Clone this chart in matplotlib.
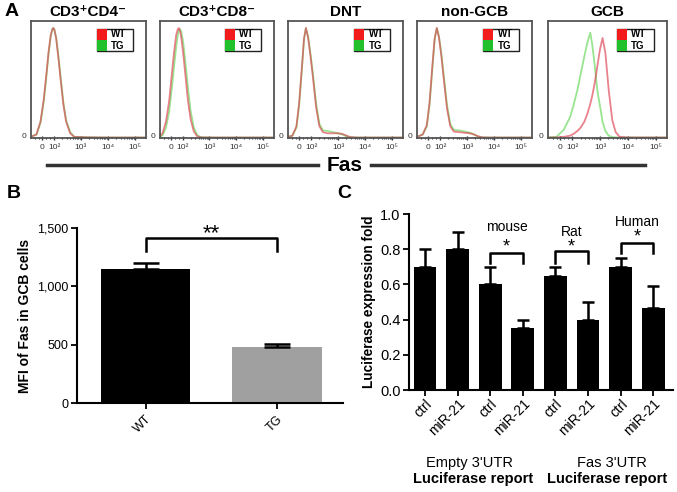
import matplotlib
matplotlib.use("Agg")
import matplotlib.pyplot as plt
from matplotlib.patches import Rectangle
import numpy as np

plt.rcParams['font.family'] = ['Liberation Sans', 'DejaVu Sans']

W, H = 677, 492

# ---------------- data ----------------
hist_titles = ['CD3⁺CD4⁻', 'CD3⁺CD8⁻', 'DNT', 'non-GCB', 'GCB']
hist_tick_pos = [1.556, 2, 3, 4, 5]
hist_tick_labels = ['0', '10²', '10³', '10⁴', '10⁵']

cd4_u = [1.14, 1.35, 1.50, 1.62, 1.72, 1.80, 1.88, 1.94, 1.97, 2.01, 2.08, 2.16, 2.25, 2.35, 2.45, 2.60, 2.75, 3.2, 4.0, 5.4]
cd4_wt = [0.01, 0.03, 0.14, 0.33, 0.55, 0.74, 0.88, 0.93, 0.94, 0.93, 0.85, 0.69, 0.49, 0.28, 0.14, 0.04, 0.01, 0.006, 0.004, 0.004]
cd4_tg = [0.01, 0.03, 0.13, 0.31, 0.53, 0.72, 0.87, 0.93, 0.94, 0.93, 0.86, 0.71, 0.51, 0.30, 0.15, 0.05, 0.01, 0.006, 0.004, 0.004]

cd8_u = [1.14, 1.25, 1.38, 1.50, 1.60, 1.68, 1.76, 1.82, 1.86, 1.90, 1.95, 2.02, 2.10, 2.20, 2.30, 2.42, 2.55, 2.70, 3.2, 4.0, 5.4]
cd8_wt = [0.012, 0.04, 0.14, 0.32, 0.55, 0.73, 0.88, 0.93, 0.94, 0.92, 0.86, 0.73, 0.55, 0.32, 0.16, 0.056, 0.014, 0.005, 0.004, 0.004, 0.004]
cd8_tg = [0.006, 0.023, 0.088, 0.23, 0.43, 0.61, 0.78, 0.88, 0.92, 0.93, 0.91, 0.82, 0.66, 0.43, 0.23, 0.088, 0.023, 0.006, 0.004, 0.004, 0.004]

dnt_u = [1.14, 1.30, 1.45, 1.55, 1.65, 1.73, 1.80, 1.88, 1.97, 2.06, 2.18, 2.30, 2.43, 2.60, 2.80, 3.00, 3.15, 3.30, 3.45, 3.70, 4.5, 5.4]
dnt_wt = [0.01, 0.02, 0.10, 0.30, 0.60, 0.85, 0.94, 0.86, 0.70, 0.52, 0.26, 0.10, 0.05, 0.04, 0.04, 0.04, 0.035, 0.02, 0.008, 0.004, 0.004, 0.004]
dnt_tg = [0.01, 0.02, 0.09, 0.28, 0.58, 0.84, 0.94, 0.87, 0.72, 0.55, 0.29, 0.12, 0.065, 0.06, 0.05, 0.04, 0.03, 0.015, 0.006, 0.004, 0.004, 0.004]

ngcb_u = [1.14, 1.35, 1.50, 1.60, 1.70, 1.79, 1.87, 1.95, 2.04, 2.13, 2.25, 2.37, 2.50, 2.70, 2.90, 3.10, 3.25, 3.40, 3.55, 3.80, 4.5, 5.4]
ngcb_wt = [0.01, 0.03, 0.11, 0.30, 0.60, 0.85, 0.94, 0.86, 0.70, 0.50, 0.25, 0.10, 0.055, 0.05, 0.045, 0.04, 0.03, 0.015, 0.006, 0.004, 0.004, 0.004]
ngcb_tg = [0.01, 0.03, 0.10, 0.28, 0.57, 0.84, 0.94, 0.87, 0.72, 0.53, 0.28, 0.12, 0.07, 0.065, 0.055, 0.045, 0.03, 0.012, 0.005, 0.004, 0.004, 0.004]

gcb_u = [1.06, 1.44, 1.70, 1.93, 2.05, 2.19, 2.31, 2.44, 2.55, 2.65, 2.72, 2.81, 2.87, 2.92, 3.00, 3.09, 3.19, 3.31, 3.44, 3.56, 3.70, 4.0, 5.4]
gcb_wt = [0.004, 0.005, 0.01, 0.02, 0.035, 0.06, 0.09, 0.14, 0.21, 0.29, 0.36, 0.47, 0.56, 0.64, 0.76, 0.855, 0.73, 0.41, 0.15, 0.05, 0.01, 0.005, 0.004]
gcb_tg = [0.005, 0.01, 0.07, 0.18, 0.28, 0.41, 0.55, 0.70, 0.82, 0.90, 0.80, 0.62, 0.48, 0.38, 0.27, 0.14, 0.06, 0.02, 0.008, 0.005, 0.004, 0.004, 0.004]

b_groups = ['WT', 'TG']
b_values = [1150, 480]
b_errors = [50, 25]

c_labels = ['ctrl', 'miR-21', 'ctrl', 'miR-21', 'ctrl', 'miR-21', 'ctrl', 'miR-21']
c_values = [0.70, 0.80, 0.60, 0.35, 0.65, 0.40, 0.70, 0.465]
c_errors = [0.10, 0.10, 0.10, 0.05, 0.05, 0.10, 0.05, 0.125]

hist_u = [cd4_u, cd8_u, dnt_u, ngcb_u, gcb_u]
hist_wt = [cd4_wt, cd8_wt, dnt_wt, ngcb_wt, gcb_wt]
hist_tg = [cd4_tg, cd8_tg, dnt_tg, ngcb_tg, gcb_tg]

# ---------------- figure ----------------
fig = plt.figure(figsize=(W / 100, H / 100), dpi=100)


def ax_px(x0, y0, x1, y1):
    return fig.add_axes([x0 / W, 1 - y1 / H, (x1 - x0) / W, (y1 - y0) / H])


def fx(x):
    return x / W


def fy(y):
    return 1 - y / H


RED = '#dd3f50'
GREEN = '#86e07c'

box_x = [(30.7, 145.7), (159.5, 273.5), (288, 403), (417, 532), (548, 667)]
for i, (x0, x1) in enumerate(box_x):
    ax = ax_px(x0, 21, x1, 138)
    ax.plot(hist_u[i], hist_tg[i], color=GREEN, lw=1.3, alpha=0.85)
    ax.plot(hist_u[i], hist_wt[i], color=RED, lw=1.3, alpha=0.65)
    ax.set_xlim(1.137, 5.397)
    ax.set_ylim(0, 1.0)
    for s in ax.spines.values():
        s.set_color('#555555')
        s.set_linewidth(1.3)
    ax.set_xticks(hist_tick_pos)
    ax.set_xticklabels(hist_tick_labels, fontsize=6, color='#333333')
    minor = [1.3, 1.45, 1.7, 1.85] + [d + np.log10(k) for d in (2, 3, 4) for k in (2, 3, 4, 5, 6, 7, 8, 9)]
    ax.set_xticks(minor, minor=True)
    ax.tick_params(axis='x', which='major', length=3, width=1, direction='inout', color='#334', pad=3)
    ax.tick_params(axis='x', which='minor', length=2, width=0.8, direction='inout', color='#334')
    ax.set_yticks([0.02])
    ax.set_yticklabels(['0'], fontsize=6, color='#333333')
    ax.tick_params(axis='y', length=0, pad=3)
    # legend
    ax.add_patch(Rectangle((0.577, 0.744), 0.31, 0.188, transform=ax.transAxes,
                           facecolor='white', edgecolor='#222222', lw=1.0, zorder=5))
    ax.add_patch(Rectangle((0.577, 0.838), 0.085, 0.094, transform=ax.transAxes,
                           facecolor='#f21c1c', edgecolor='none', zorder=6))
    ax.add_patch(Rectangle((0.577, 0.744), 0.085, 0.094, transform=ax.transAxes,
                           facecolor='#22c02a', edgecolor='none', zorder=6))
    ax.text(0.70, 0.885, 'WT', transform=ax.transAxes, fontsize=7, fontweight='bold',
            va='center', ha='left', zorder=7)
    ax.text(0.70, 0.79, 'TG', transform=ax.transAxes, fontsize=7, fontweight='bold',
            va='center', ha='left', zorder=7)
    fig.text(fx((x0 + x1) / 2), fy(12), hist_titles[i], fontsize=11, fontweight='bold',
             ha='center', va='center')

fig.text(fx(5), fy(12), 'A', fontsize=14, fontweight='bold', ha='left', va='center')

# Fas line
fig.add_artist(plt.Line2D([fx(47), fx(318)], [fy(165), fy(165)], color='#333333', lw=2.5))
fig.add_artist(plt.Line2D([fx(371), fx(645)], [fy(165), fy(165)], color='#333333', lw=2.5))
fig.text(fx(344.5), fy(165), 'Fas', fontsize=15, fontweight='bold', ha='center', va='center')

# ---------------- panel B ----------------
axb = ax_px(77, 228, 343, 403)
xb = np.arange(len(b_groups))
axb.bar(xb, b_values, width=0.677, color=['black', '#a0a0a0'])
axb.errorbar(xb, b_values, yerr=[[0, 0], b_errors], fmt='none', ecolor='black',
             elinewidth=1.8, capsize=9.5, capthick=1.8)
axb.set_xlim(-0.521, 1.502)
axb.set_ylim(0, 1500)
axb.set_yticks([0, 500, 1000, 1500])
axb.set_yticklabels(['0', '500', '1,000', '1,500'], fontsize=9)
axb.set_xticks(xb)
axb.set_xticklabels(b_groups, fontsize=9, rotation=45, ha='right', va='top', rotation_mode='anchor')
for s in ['top', 'right']:
    axb.spines[s].set_visible(False)
for s in ['left', 'bottom']:
    axb.spines[s].set_linewidth(1.5)
axb.tick_params(length=4, width=1.3)
axb.tick_params(axis='y', pad=2)
axb.set_ylabel('MFI of Fas in GCB cells', fontsize=10, fontweight='bold', labelpad=4)
axb.plot([0, 0, 1, 1], [1303, 1414, 1414, 1303], color='black', lw=1.8, clip_on=False)
axb.text(0.5, 1450, '**', fontsize=16, ha='center', va='center')
fig.text(fx(7), fy(194), 'B', fontsize=14, fontweight='bold', ha='left', va='center')

# ---------------- panel C ----------------
axc = ax_px(409, 214, 673, 390)
xc = np.arange(len(c_values))
axc.bar(xc, c_values, width=0.7, color='black')
axc.errorbar(xc, c_values, yerr=[[0] * len(c_values), c_errors], fmt='none', ecolor='black',
             elinewidth=1.8, capsize=4.5, capthick=1.8)
axc.set_xlim(-0.49, 7.61)
axc.set_ylim(0, 1.0)
axc.set_yticks([0.0, 0.2, 0.4, 0.6, 0.8, 1.0])
axc.set_yticklabels(['0.0', '0.2', '0.4', '0.6', '0.8', '1.0'], fontsize=10.5)
axc.set_xticks(xc)
axc.set_xticklabels(c_labels, fontsize=10, rotation=45, ha='right', va='top', rotation_mode='anchor')
for s in ['top', 'right']:
    axc.spines[s].set_visible(False)
for s in ['left', 'bottom']:
    axc.spines[s].set_linewidth(1.5)
axc.tick_params(length=4, width=1.3)
axc.tick_params(axis='y', pad=2)
axc.tick_params(axis='x', pad=1)
axc.set_ylabel('Luciferase expression fold', fontsize=9.8, fontweight='bold', labelpad=3)

brackets = [(2, 3, 0.72, 0.777, 'mouse', 0.926, 0.83),
            (4, 5, 0.72, 0.79, 'Rat', 0.90, 0.835),
            (6, 7, 0.778, 0.835, 'Human', 0.955, 0.89)]
for a, b, low, top, name, ty, sy in brackets:
    axc.plot([a, a, b, b], [low, top, top, low], color='black', lw=1.8)
    axc.text((a + b) / 2, ty, name, fontsize=10, ha='center', va='center')
    axc.text((a + b) / 2, sy - 0.02, '*', fontsize=13, ha='center', va='center')

fig.text(fx(470), fy(463), "Empty 3'UTR", fontsize=10.5, ha='center', va='center')
fig.text(fx(473), fy(479), 'Luciferase report', fontsize=10.5, fontweight='bold', ha='center', va='center')
fig.text(fx(612), fy(463), "Fas 3'UTR", fontsize=10.5, ha='center', va='center')
fig.text(fx(607), fy(479), 'Luciferase report', fontsize=10.5, fontweight='bold', ha='center', va='center')
fig.text(fx(337), fy(194), 'C', fontsize=14, fontweight='bold', ha='left', va='center')

fig.savefig('out.png', dpi=100)
